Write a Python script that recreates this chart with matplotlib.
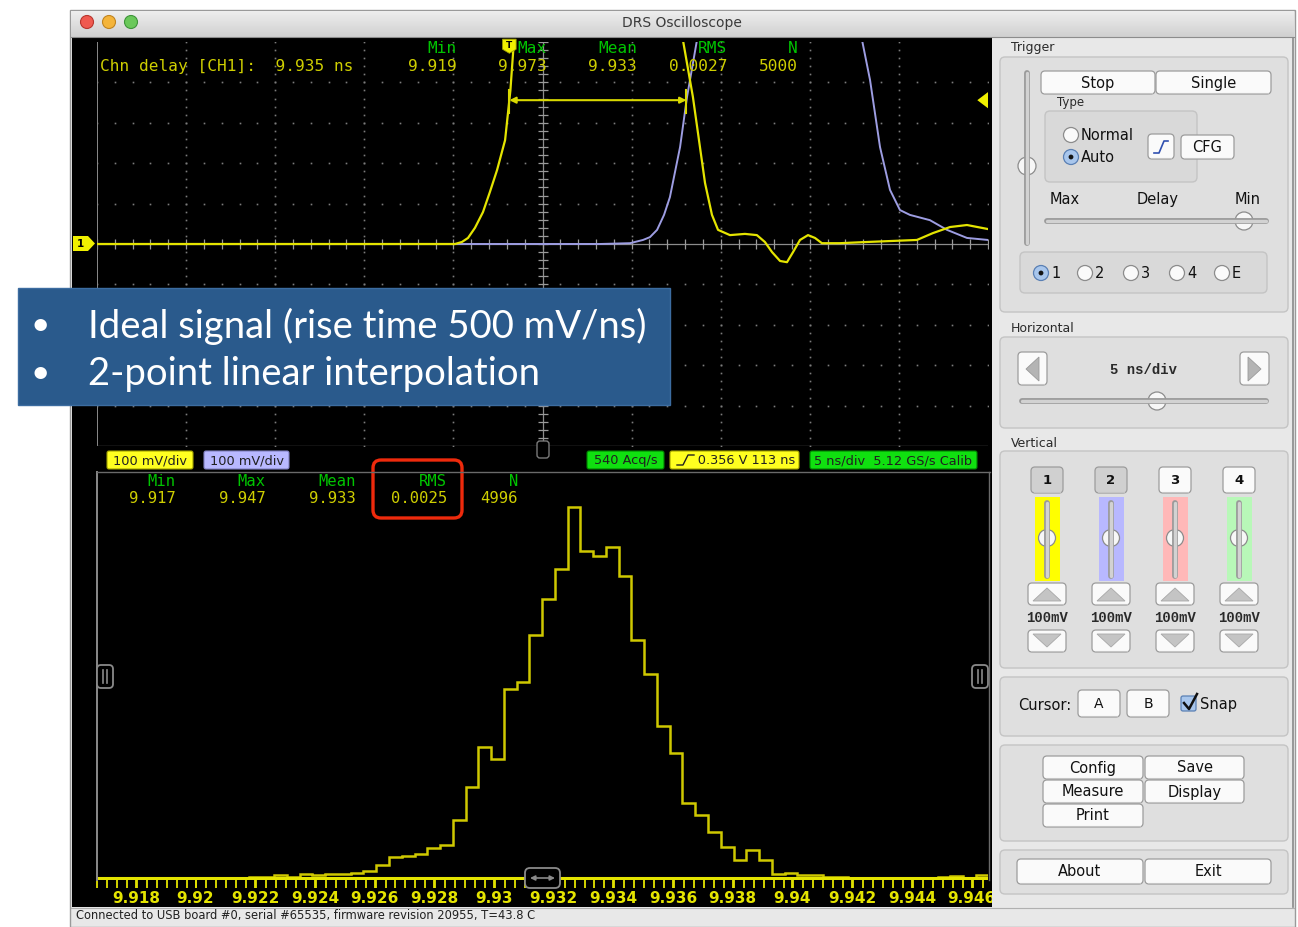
import matplotlib
matplotlib.use("Agg")
import matplotlib.pyplot as plt
from matplotlib.patches import FancyBboxPatch, Rectangle, Circle, Polygon
import numpy as np

W, H = 1298, 927

# ---------------- data ----------------
chn_delay_ns = 9.935
top_stat_labels = ["Min", "Max", "Mean", "RMS", "N"]
top_stat_values = ["9.919", "9.973", "9.933", "0.0027", "5000"]
hist_stat_labels = ["Min", "Max", "Mean", "RMS", "N"]
hist_stat_values = ["9.917", "9.947", "9.933", "0.0025", "4996"]

# channel 1 (yellow) waveform, ns / mV
ch1_t = [-25.0, -4.91, -4.52, -4.18, -3.79, -3.34, -2.95, -2.55, -2.10, -1.80,
         -1.60, -1.40, 7.70, 7.88, 8.44, 9.12, 9.51, 9.85, 10.52, 11.36, 12.03,
         12.48, 12.88, 13.33, 13.72, 14.06, 14.45, 14.90, 15.29, 15.68, 16.69,
         18.21, 21.01, 21.91, 22.87, 23.82, 25.0]
ch1_mv = [0, 0, 5, 15, 40, 79, 129, 183, 257, 381, 505, 700, 700, 505, 364, 151,
          72, 35, 22, 25, 22, 5, -20, -42, -45, -20, 10, 22, 15, 2, 2, 5, 10, 27,
          42, 47, 37]
# channel 2 (blue) waveform, ns / mV
ch2_t = [-25.0, 3.23, 4.91, 5.64, 6.03, 6.43, 6.82, 7.15, 7.72, 8.11, 8.67, 8.84,
         17.82, 17.93, 18.38, 18.94, 19.50, 20.06, 20.62, 21.74, 22.70, 23.82, 25.0]
ch2_mv = [0, 0, 2, 10, 17, 35, 72, 116, 240, 364, 505, 700, 700, 505, 406, 240,
          134, 84, 72, 59, 35, 15, 10]

trigger_level_mv = 356
trigger_time_ns = -1.86

# delay histogram
hist_first_edge = 9.92178
hist_bin_width = 0.0004275
hist_counts = [1, 1, 3, 1, 4, 3, 4, 4, 6, 8, 15, 23, 25, 27, 34, 37,
               65, 102, 147, 133, 212, 220, 272, 313, 346, 415, 366, 361, 371,
               338, 266, 228, 170, 140, 84, 70, 51, 35, 20, 31, 20, 4, 6, 3, 3,
               1, 1, 0, 0, 0, 0, 0, 0, 0, 1, 2, 0, 3]
hist_tick_values = [9.918, 9.920, 9.922, 9.924, 9.926, 9.928, 9.930, 9.932,
                    9.934, 9.936, 9.938, 9.940, 9.942, 9.944, 9.946]

bullets = ["Ideal signal (rise time 500 mV/ns)", "2-point linear interpolation"]

# ---------------- colours ----------------
YEL = "#e4e400"
YEL_TXT = "#cfcf00"
GRN_TXT = "#00c400"
BLUE = "#9d9de2"
PANEL = "#e8e8e8"
GROUP = "#dfdfdf"
MONO = "DejaVu Sans Mono"

fig = plt.figure(figsize=(W / 100, H / 100), dpi=100)
fig.patch.set_facecolor("white")


def px_axes(z):
    a = fig.add_axes([0, 0, 1, 1], zorder=z)
    a.set_xlim(0, W)
    a.set_ylim(H, 0)
    a.axis("off")
    a.patch.set_alpha(0)
    return a


def fig_rect(x0, y0, x1, y1):
    return [x0 / W, 1 - y1 / H, (x1 - x0) / W, (y1 - y0) / H]


ui = px_axes(0)

# ---------------- window chrome ----------------
ui.add_patch(Rectangle((70, 10), 1225, 917, fc=PANEL, ec="#9a9a9a", lw=1))
top_c = np.array([0.93, 0.93, 0.93])
bot_c = np.array([0.81, 0.81, 0.81])
for i in range(27):
    c = top_c + (bot_c - top_c) * i / 26
    ui.add_patch(Rectangle((71, 10.5 + i), 1223, 1.05, fc=c, ec="none"))
ui.plot([71, 1294], [37, 37], color="#8c8c8c", lw=0.8)
for cx, fc, ec in [(87, "#f05a50", "#b8362e"), (109, "#f4b43a", "#c08420"),
                   (131, "#6ac85a", "#3e943a")]:
    ui.add_patch(Circle((cx, 22), 6.5, fc=fc, ec=ec, lw=0.8))
ui.text(682, 23, "DRS Oscilloscope", ha="center", va="center", fontsize=10,
        color="#3a3a3a")

# black scope area and status bar
black_area = Rectangle((72, 38), 920, 869, fc="black", ec="none")
ui.add_patch(black_area)
ui.plot([71, 1294], [907.5, 907.5], color="#b0b0b0", lw=0.8)
ui.text(76, 916, "Connected to USB board #0, serial #65535, firmware revision 20955, T=43.8 C",
        ha="left", va="center", fontsize=8.3, color="#202020")
ui.plot([1293, 1293], [38, 907], color="#8a8a8a", lw=1.2)

# ---------------- right control panel ----------------


def gbox(x0, y0, x1, y1, fc=GROUP):
    ui.add_patch(FancyBboxPatch((x0, y0), x1 - x0, y1 - y0,
                                boxstyle="round,pad=0,rounding_size=5",
                                fc=fc, ec="#c4c4c4", lw=1))


def button(x0, y0, x1, y1, label="", fs=10, fc="#fafafa", bold=False, family=None):
    ui.add_patch(FancyBboxPatch((x0, y0), x1 - x0, y1 - y0,
                                boxstyle="round,pad=0,rounding_size=4",
                                fc=fc, ec="#9c9c9c", lw=0.9))
    ui.plot([x0 + 3, x1 - 3], [y1 - 0.8, y1 - 0.8], color="#c4c4c4", lw=0.8)
    if label:
        kw = {}
        if family:
            kw["family"] = family
        ui.text((x0 + x1) / 2, (y0 + y1) / 2 + 0.5, label, ha="center", va="center",
                fontsize=fs, color="#111111",
                fontweight="bold" if bold else "normal", **kw)


def radio(x, y, sel, label=None, fs=10):
    if sel:
        ui.add_patch(Circle((x, y), 7.5, fc="#a8c6ec", ec="#5a80b4", lw=0.9))
        ui.add_patch(Circle((x, y), 2.4, fc="#141414", ec="none"))
    else:
        ui.add_patch(Circle((x, y), 7.5, fc="#fafafa", ec="#8c8c8c", lw=0.9))
    if label:
        ui.text(x + 10, y + 0.5, label, ha="left", va="center", fontsize=fs,
                color="#111111")


def hslider(x0, x1, y, knob):
    ui.plot([x0, x1], [y, y], color="#9a9a9a", lw=4.2, solid_capstyle="round")
    ui.plot([x0, x1], [y, y], color="#d2d2d2", lw=2.4, solid_capstyle="round")
    ui.add_patch(Circle((knob, y), 9, fc="#f7f7f7", ec="#8c8c8c", lw=0.9))


def vslider(x, y0, y1, knob, r=9):
    ui.plot([x, x], [y0, y1], color="#9a9a9a", lw=4.2, solid_capstyle="round")
    ui.plot([x, x], [y0, y1], color="#d2d2d2", lw=2.4, solid_capstyle="round")
    ui.add_patch(Circle((x, knob), r, fc="#f7f7f7", ec="#8c8c8c", lw=0.9))


lab = dict(ha="left", va="center", fontsize=9, color="#2a2a2a")

# Trigger
ui.text(1011, 47, "Trigger", **lab)
gbox(1000, 57, 1288, 312)
vslider(1027, 73, 243, 166)
button(1041, 71, 1155, 94, "Stop", fs=10.5)
button(1156, 71, 1271, 94, "Single", fs=10.5)
ui.text(1057, 102, "Type", ha="left", va="center", fontsize=8.5, color="#2a2a2a")
gbox(1045, 111, 1197, 182, fc="#d9d9d9")
radio(1071, 135, False, "Normal", fs=10.5)
radio(1071, 157, True, "Auto", fs=10.5)
button(1148, 134, 1174, 159)
ui.plot([1154, 1159, 1164, 1168], [153, 153, 141, 141], color="#3050b0", lw=1.2)
button(1181, 135, 1234, 159, "CFG", fs=10.5)
ui.text(1050, 199, "Max", ha="left", va="center", fontsize=10.5, color="#111111")
ui.text(1158, 199, "Delay", ha="center", va="center", fontsize=10.5, color="#111111")
ui.text(1248, 199, "Min", ha="center", va="center", fontsize=10.5, color="#111111")
hslider(1047, 1266, 221, 1244)
gbox(1020, 252, 1267, 293, fc="#d9d9d9")
for x, lbl, sel in [(1041, "1", True), (1085, "2", False), (1131, "3", False),
                    (1177, "4", False), (1222, "E", False)]:
    radio(x, 273, sel, lbl, fs=10.5)

# Horizontal
ui.text(1011, 328, "Horizontal", **lab)
gbox(1000, 337, 1288, 428)
button(1018, 352, 1047, 385)
ui.add_patch(Polygon([[1039, 357], [1039, 381], [1026, 369]], closed=True,
                     fc="#b4b4b4", ec="#9a9a9a", lw=0.6))
button(1240, 352, 1269, 385)
ui.add_patch(Polygon([[1248, 357], [1248, 381], [1261, 369]], closed=True,
                     fc="#b4b4b4", ec="#9a9a9a", lw=0.6))
ui.text(1143, 370, "5 ns/div", ha="center", va="center", fontsize=10,
        family="Liberation Mono", fontweight="bold", color="#2a2a2a")
hslider(1022, 1266, 401, 1157)

# Vertical
ui.text(1011, 443, "Vertical", **lab)
gbox(1000, 451, 1288, 668)
strip_cols = ["#ffff00", "#b8b8ff", "#ffb8b8", "#b8f8b8"]
for i, cx in enumerate([1047, 1111, 1175, 1239]):
    button(cx - 16, 467, cx + 16, 493, str(i + 1), fs=9.5, bold=True,
           fc="#d0d0d0" if i < 2 else "#fafafa")
    ui.add_patch(Rectangle((cx - 12.5, 497), 25, 84, fc=strip_cols[i], ec="none"))
    vslider(cx, 503, 576, 538, r=8.5)
    button(cx - 19, 583, cx + 19, 605)
    ui.add_patch(Polygon([[cx - 14, 601], [cx + 14, 601], [cx, 588]], closed=True,
                         fc="#c4c4c4", ec="#a8a8a8", lw=0.6))
    ui.text(cx, 618, "100mV", ha="center", va="center", fontsize=10,
            family="Liberation Mono", fontweight="bold", color="#2a2a2a")
    button(cx - 19, 630, cx + 19, 652)
    ui.add_patch(Polygon([[cx - 14, 634], [cx + 14, 634], [cx, 647]], closed=True,
                         fc="#c4c4c4", ec="#a8a8a8", lw=0.6))

# Cursor
gbox(1000, 677, 1288, 736)
ui.text(1018, 705, "Cursor:", ha="left", va="center", fontsize=10.5, color="#111111")
button(1078, 690, 1120, 717, "A", fs=10)
button(1127, 690, 1169, 717, "B", fs=10)
ui.add_patch(FancyBboxPatch((1181, 696), 15, 15, boxstyle="round,pad=0,rounding_size=2",
                            fc="#a8c6ec", ec="#5a80b4", lw=0.9))
ui.plot([1184, 1189, 1197], [703, 709, 694], color="#101010", lw=1.8)
ui.text(1200, 704, "Snap", ha="left", va="center", fontsize=10.5, color="#111111")

# Config / Save ...
gbox(1000, 745, 1288, 841)
button(1043, 756, 1143, 779, "Config", fs=10.5)
button(1145, 756, 1244, 779, "Save", fs=10.5)
button(1043, 780, 1143, 803, "Measure", fs=10.5)
button(1145, 780, 1244, 803, "Display", fs=10.5)
button(1043, 804, 1143, 827, "Print", fs=10.5)

gbox(1000, 850, 1288, 894)
button(1017, 859, 1143, 884, "About", fs=10.5)
button(1145, 859, 1271, 884, "Exit", fs=10.5)

# ---------------- scope display ----------------
sc = fig.add_axes(fig_rect(97, 42, 988, 446), zorder=1)
sc.set_facecolor("black")
for s in sc.spines.values():
    s.set_visible(False)
sc.set_xticks([])
sc.set_yticks([])

GRID = "#7c7c7c"
for k in range(1, 10):
    t = -25 + 5 * k
    if t != 0:
        vv = np.arange(-500, 501, 20)
        sc.plot(np.full_like(vv, t, dtype=float), vv, ls="none", marker="s",
                ms=1.2, color=GRID, mec="none")
for j in range(1, 10):
    v = -500 + 100 * j
    if v != 0:
        tt = np.arange(-25, 25.01, 1.0)
        sc.plot(tt, np.full_like(tt, v), ls="none", marker="s", ms=1.2,
                color=GRID, mec="none")
# centre cross with tick marks
sc.axvline(0, color="#8c8c8c", lw=0.9)
sc.axhline(0, color="#8c8c8c", lw=0.9)
vv = np.arange(-500, 501, 20)
sc.plot(np.zeros_like(vv), vv, ls="none", marker="_", ms=7, mew=0.9, color="#9a9a9a")
tt = np.arange(-25, 25.01, 1.0)
sc.plot(tt, np.zeros_like(tt), ls="none", marker="|", ms=7, mew=0.9, color="#9a9a9a")
sc.axvline(-25, color="#8a8a8a", lw=1.4)
sc.axhline(-500, color="#5a5a5a", lw=1.0)

sc.plot(ch2_t, ch2_mv, color=BLUE, lw=1.4, zorder=4)
sc.plot(ch1_t, ch1_mv, color=YEL, lw=1.6, zorder=5)

# delay measurement between the two threshold crossings
t_a = trigger_time_ns
t_b = trigger_time_ns + chn_delay_ns
sc.annotate("", xy=(t_a, trigger_level_mv), xytext=(t_b, trigger_level_mv),
            arrowprops=dict(arrowstyle="<|-|>", color="#d8d800", lw=1.5,
                            mutation_scale=9, shrinkA=0, shrinkB=0), zorder=6)
for t in (t_a, t_b):
    sc.plot([t, t], [trigger_level_mv + 25, trigger_level_mv - 32], color="#d8d800",
            lw=1.5, zorder=6)
# trigger level marker on the right edge
sc.add_patch(Polygon([[25, trigger_level_mv + 20], [25, trigger_level_mv - 20],
                      [24.4, trigger_level_mv]], closed=True, fc="#f0f000",
                     ec="none", zorder=7, clip_on=False))
# trigger time marker at the top
sc.add_patch(Polygon([[t_a - 0.38, 507], [t_a + 0.38, 507], [t_a + 0.38, 482],
                      [t_a, 472], [t_a - 0.38, 482]], closed=True, fc="#f0f000",
                     ec="#a0a000", lw=0.6, zorder=7, clip_on=False))
sc.text(t_a, 492, "T", ha="center", va="center", fontsize=6.5, fontweight="bold",
        color="black", zorder=8)
sc.set_xlim(-25, 25)
sc.set_ylim(-500, 500)

# ---------------- delay histogram ----------------
hx = fig.add_axes(fig_rect(97, 472, 988, 880), zorder=1)
hx.set_facecolor("black")
edges = hist_first_edge + hist_bin_width * np.arange(len(hist_counts) + 1)
hx.stairs(hist_counts, edges, color="#cfc800", lw=1.8, baseline=0)
hx.axhline(0, color=YEL, lw=2.2)
for name in ("top", "right", "bottom"):
    hx.spines[name].set_visible(False)
hx.spines["left"].set_color("#8a8a8a")
hx.spines["left"].set_linewidth(1.4)
hx.set_yticks([])
hx.set_xticks(hist_tick_values, [f"{v:g}" for v in hist_tick_values])
hx.set_xticks(np.arange(9.9167, 9.9466, 0.002 / 6), minor=True)
hx.tick_params(axis="x", which="both", direction="out", color=YEL, length=5.5,
               width=1.3, pad=2.5, labelcolor=YEL)
for lbl in hx.get_xticklabels():
    lbl.set_fontweight("bold")
    lbl.set_fontsize(11)
    lbl.set_clip_path(black_area)
# limits last so the tick lists cannot widen the view
hx.set_xlim(9.9167, 9.94655)
hx.set_ylim(-2.24, 454.7)

# ---------------- overlay: texts and markers ----------------
ov = px_axes(5)
ov.plot([97, 990], [471.5, 471.5], color="#6a6a6a", lw=1)
ov.plot([989, 989], [472, 880], color="#6a6a6a", lw=1)

mono = dict(family=MONO, fontsize=11.6, va="center")
ov.text(100, 66, f"Chn delay [CH1]:  {chn_delay_ns:.3f} ns", color=YEL_TXT,
        ha="left", **mono)
for x, l, v in zip([457, 547, 637, 727, 798], top_stat_labels, top_stat_values):
    ov.text(x, 48, l, color=GRN_TXT, ha="right", **mono)
    ov.text(x, 66, v, color=YEL_TXT, ha="right", **mono)

hmono = dict(family=MONO, fontsize=11.2, va="center")
for x, l, v in zip([176, 266, 356, 447, 518], hist_stat_labels, hist_stat_values):
    ov.text(x, 481, l, color=GRN_TXT, ha="right", **hmono)
    ov.text(x, 498, v, color=YEL_TXT, ha="right", **hmono)
ov.add_patch(FancyBboxPatch((373, 460), 89, 58, boxstyle="round,pad=0,rounding_size=8",
                            fc="none", ec="#ee2a0c", lw=2.4))

# channel 1 offset marker
ov.add_patch(Polygon([[73, 236], [88, 236], [95, 243.5], [88, 251], [73, 251]],
                     closed=True, fc="#f0f000", ec="none"))
ov.text(80, 243.5, "1", ha="center", va="center", fontsize=7.5, fontweight="bold",
        color="black")


# status boxes between the two displays
def tag(x0, x1, label, fc, ec):
    ov.add_patch(FancyBboxPatch((x0, 451), x1 - x0, 18, boxstyle="round,pad=0,rounding_size=2",
                                fc=fc, ec=ec, lw=0.8))
    ov.text((x0 + x1) / 2, 460.5, label, ha="center", va="center", fontsize=9.3,
            color="#202020")


tag(107, 193, "100 mV/div", "#ffff20", "#a0a000")
tag(204, 289, "100 mV/div", "#b8b8ff", "#8080c0")
tag(587, 664, "540 Acq/s", "#10e010", "#008000")
tag(670, 799, "      0.356 V 113 ns", "#ffff20", "#a0a000")
ov.plot([677, 683, 688, 694], [465, 465, 455, 455], color="#202020", lw=1)
tag(810, 977, "5 ns/div  5.12 GS/s Calib", "#10e010", "#008000")

# display handles
for x0 in (97, 972):
    ov.add_patch(FancyBboxPatch((x0, 665), 16, 23, boxstyle="round,pad=0,rounding_size=4",
                                fc="black", ec="#8a8a8a", lw=1.3))
    ov.plot([x0 + 6, x0 + 6], [670, 683], color="#8a8a8a", lw=1.2)
    ov.plot([x0 + 10, x0 + 10], [670, 683], color="#8a8a8a", lw=1.2)
ov.add_patch(FancyBboxPatch((525, 868), 35, 20, boxstyle="round,pad=0,rounding_size=5",
                            fc="black", ec="#8a8a8a", lw=1.3))
ov.annotate("", xy=(530, 878), xytext=(555, 878),
            arrowprops=dict(arrowstyle="<|-|>", color="#8a8a8a", lw=1.2,
                            mutation_scale=7, shrinkA=0, shrinkB=0))
ov.add_patch(FancyBboxPatch((537, 441), 12, 17, boxstyle="round,pad=0,rounding_size=3",
                            fc="black", ec="#7a7a7a", lw=1))

# ---------------- presentation callout ----------------
ov.add_patch(Rectangle((18, 288), 652, 117, fc="#2a5a8c", ec="#3c6ca0", lw=1, zorder=20))
for y, txt in zip([326, 374], bullets):
    ov.text(40, y, "\u2022", ha="center", va="center", fontsize=24, color="white",
            family="Lato", zorder=21)
    ov.text(88, y, txt, ha="left", va="center", fontsize=27.5, color="white",
            family="Lato", zorder=21)

fig.savefig("out.png", dpi=100, facecolor=fig.get_facecolor())
